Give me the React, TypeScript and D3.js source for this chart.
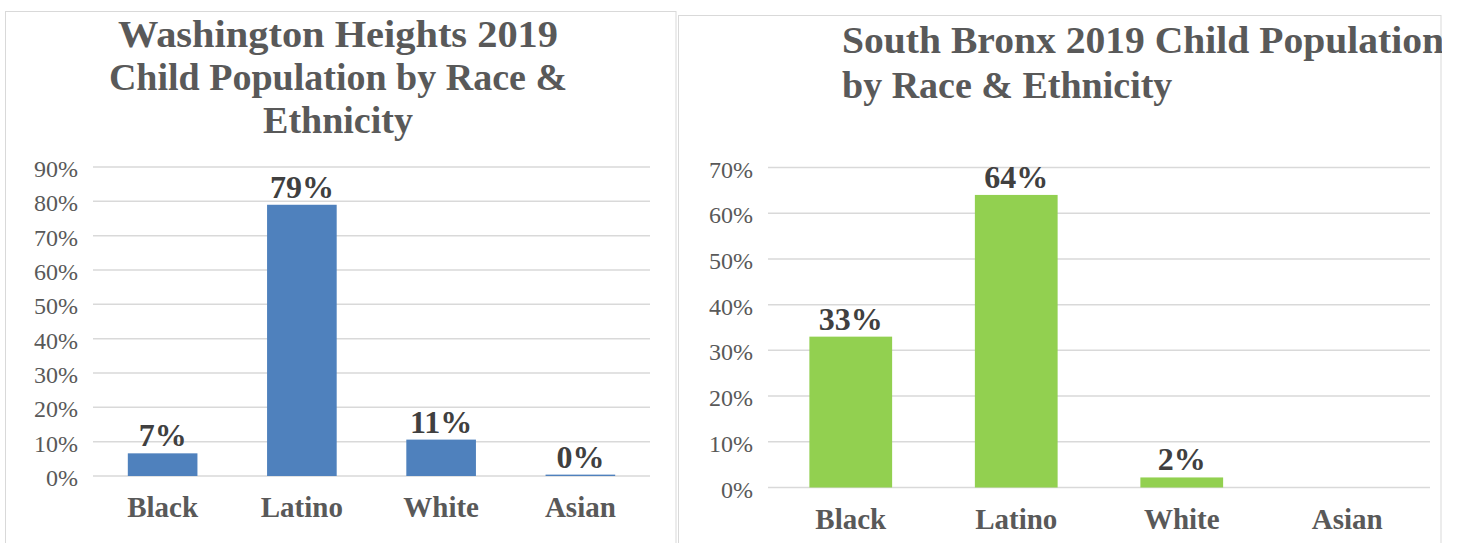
import React from "react";
import * as d3 from "d3";

const categories = ["Black", "Latino", "White", "Asian"];
const whValues = [0.066, 0.79, 0.106, 0.004];
const sbValues: (number | null)[] = [0.33, 0.64, 0.022, null];
const whTicks = [0, 0.1, 0.2, 0.3, 0.4, 0.5, 0.6, 0.7, 0.8, 0.9];
const sbTicks = [0, 0.1, 0.2, 0.3, 0.4, 0.5, 0.6, 0.7];
const whTitle = ["Washington Heights 2019", "Child Population by Race &", "Ethnicity"];
const sbTitle = ["South Bronx 2019 Child Population", "by Race & Ethnicity"];

const FONT = "'Liberation Serif', 'Times New Roman', serif";
const pct = d3.format(".0%");

type PanelProps = {
  values: (number | null)[];
  ticks: number[];
  x0: number;
  x1: number;
  y0: number;
  y1: number;
  max: number;
  color: string;
  tickRight: number;
};

function Bars({ values, ticks, x0, x1, y0, y1, max, color, tickRight }: PanelProps) {
  const x = d3.scaleBand<string>().domain(categories).range([x0, x1]).paddingInner(0.5).paddingOuter(0.25);
  const y = d3.scaleLinear().domain([0, max]).range([y0, y1]);
  return (
    <g>
      {ticks.map((t) => (
        <g key={t}>
          <line x1={x0} x2={x1} y1={y(t)} y2={y(t)} stroke="#d9d9d9" strokeWidth={1.5} />
          <text x={tickRight} y={y(t) + 10} textAnchor="end" fontFamily={FONT} fontSize={24} fill="#595959">
            {pct(t)}
          </text>
        </g>
      ))}
      {categories.map((c, i) => {
        const v = values[i];
        const bx = x(c)!;
        const cx = bx + x.bandwidth() / 2;
        return (
          <g key={c}>
            {v !== null && (
              <>
                <rect x={bx} width={x.bandwidth()} y={y(v)} height={y0 - y(v)} fill={color} />
                <text x={cx} y={y(v) - 7} textAnchor="middle" fontFamily={FONT} fontWeight="bold" fontSize={32} fill="#404040">
                  {pct(v)}
                </text>
              </>
            )}
            <text x={cx} y={y0 + 41} textAnchor="middle" fontFamily={FONT} fontWeight="bold" fontSize={29} fill="#595959">
              {c}
            </text>
          </g>
        );
      })}
    </g>
  );
}

const whTitleWidths: (number | undefined)[] = [440, undefined, undefined];
const sbTitleWidths: (number | undefined)[] = [602, undefined];

export default function App() {
  return (
    <svg width={1458} height={543} style={{ position: "absolute", left: 0, top: 0, background: "#fff" }}>
      <defs>
        <clipPath id="rightClip">
          <rect x={678} y={15} width={764} height={600} />
        </clipPath>
      </defs>
      <rect x={0} y={0} width={1458} height={543} fill="#fff" />
      {/* left panel */}
      <rect x={5.5} y={11.5} width={670.5} height={600} fill="#fff" stroke="#d9d9d9" strokeWidth={1} />
      {whTitle.map((t, i) => (
        <text
          key={t}
          x={338}
          y={47 + i * 43}
          textAnchor="middle"
          fontFamily={FONT}
          fontWeight="bold"
          fontSize={38}
          fill="#595959"
          textLength={whTitleWidths[i]}
          lengthAdjust={whTitleWidths[i] ? "spacingAndGlyphs" : undefined}
        >
          {t}
        </text>
      ))}
      <Bars values={whValues} ticks={whTicks} x0={93} x1={650} y0={476} y1={167} max={0.9} color="#4f81bd" tickRight={78} />
      {/* right panel */}
      <rect x={678.5} y={15.5} width={762.5} height={600} fill="#fff" stroke="#d9d9d9" strokeWidth={1} />
      <g clipPath="url(#rightClip)">
        {sbTitle.map((t, i) => (
          <text
            key={t}
            x={842}
            y={53 + i * 45}
            textAnchor="start"
            fontFamily={FONT}
            fontWeight="bold"
            fontSize={38}
            fill="#595959"
            textLength={sbTitleWidths[i]}
            lengthAdjust={sbTitleWidths[i] ? "spacingAndGlyphs" : undefined}
          >
            {t}
          </text>
        ))}
      </g>
      <Bars values={sbValues} ticks={sbTicks} x0={768} x1={1430} y0={487.5} y1={167.5} max={0.7} color="#92d050" tickRight={753} />
    </svg>
  );
}
